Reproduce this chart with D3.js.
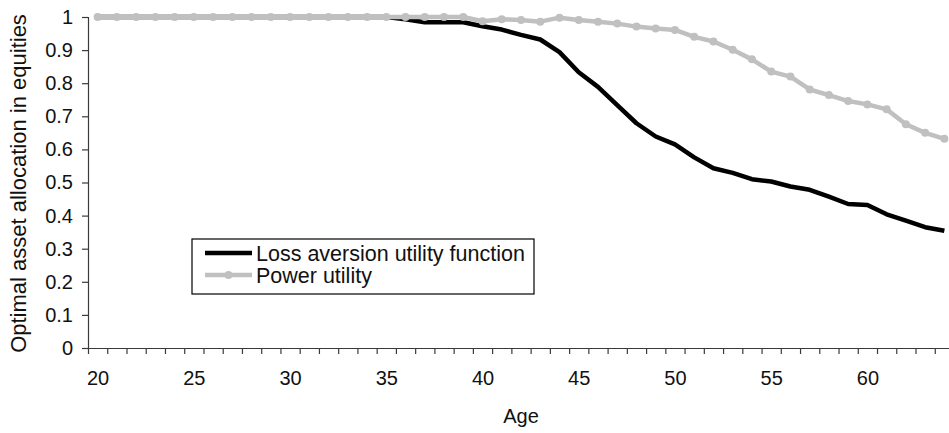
<!DOCTYPE html>
<html>
<head>
<meta charset="utf-8">
<script src="https://cdn.jsdelivr.net/npm/d3@7"></script>
<style>
  body { margin: 0; background: #fff; }
  svg { display: block; font-family: "Liberation Sans", Arial, sans-serif; }
</style>
</head>
<body>
<svg id="chart" width="949" height="433"></svg>
<script>

// Data

var ages = d3.range(20, 65);

var lossAversion = [
  1, 1, 1, 1, 1, 1, 1, 1, 1, 1,                  // 20-29
  1, 1, 1, 1, 1, 1, 0.993, 0.984, 0.984, 0.984,  // 30-39
  0.972, 0.962, 0.946, 0.932, 0.894, 0.833, 0.789, 0.734, 0.679, 0.639, // 40-49
  0.615, 0.576, 0.543, 0.529, 0.510, 0.503, 0.488, 0.478, 0.457, 0.435, // 50-59
  0.432, 0.404, 0.385, 0.365, 0.354              // 60-64
];

var powerUtility = [
  1, 1, 1, 1, 1, 1, 1, 1, 1, 1,                  // 20-29
  1, 1, 1, 1, 1, 1, 1, 1, 1, 1,                  // 30-39
  0.987, 0.993, 0.991, 0.986, 0.998, 0.991, 0.986, 0.980, 0.971, 0.965, // 40-49
  0.961, 0.940, 0.926, 0.901, 0.872, 0.835, 0.820, 0.781, 0.764, 0.746, // 50-59
  0.736, 0.721, 0.676, 0.650, 0.632              // 60-64
];

var seriesNames = ["Loss aversion utility function", "Power utility"];
var xLabels = [20, 25, 30, 35, 40, 45, 50, 55, 60];
var yTicks = d3.range(0, 11).map(function(i) { return i / 10; });

// Layout (plot area runs a little past the right edge, as in the picture)

var plotL = 88, plotR = 954, plotT = 17, plotB = 348;

var svg = d3.select("#chart");

// category axis: each age sits in the middle of its slot
var x = d3.scaleLinear().domain([19.5, 19.5 + ages.length]).range([plotL, plotR]);
var y = d3.scaleLinear().domain([0, 1]).range([plotB, plotT]);

var axisColor = "#3a3a3a";

// y axis
svg.append("g")
  .attr("transform", "translate(" + plotL + ",0)")
  .call(d3.axisLeft(y).tickValues(yTicks).tickSize(6).tickPadding(9)
    .tickFormat(d3.format("~g")));

// x axis: tick marks between categories
svg.append("g")
  .attr("transform", "translate(0," + plotB + ")")
  .call(d3.axisBottom(x).tickValues(d3.range(0, ages.length + 1).map(function(i) { return 19.5 + i; }))
    .tickSize(6).tickSizeOuter(0).tickFormat(""));

// x axis labels in the middle of their category
var xLabelAxis = svg.append("g")
  .attr("transform", "translate(0," + plotB + ")")
  .call(d3.axisBottom(x).tickValues(xLabels).tickSize(0).tickPadding(23));

xLabelAxis.select(".domain").remove();

svg.selectAll(".domain, .tick line").attr("stroke", axisColor).attr("stroke-width", 1.2);
svg.selectAll(".tick text").attr("fill", "#111").style("font-size", "20px");

// axis titles
svg.append("text")
  .attr("x", (plotL + plotR) / 2)
  .attr("y", 423)
  .attr("text-anchor", "middle")
  .style("font-size", "20px")
  .attr("fill", "#111")
  .text("Age");

svg.append("text")
  .attr("transform", "translate(26," + ((plotT + plotB) / 2 + 1) + ") rotate(-90)")
  .attr("text-anchor", "middle")
  .style("font-size", "22px")
  .attr("fill", "#111")
  .text("Optimal asset allocation in equities");

// lines

var line = d3.line()
  .x(function(d, i) { return x(ages[i]); })
  .y(function(d) { return y(d); });

svg.append("path")
  .datum(lossAversion)
  .attr("fill", "none")
  .attr("stroke", "#000")
  .attr("stroke-width", 4.5)
  .attr("stroke-linejoin", "round")
  .attr("d", line);

svg.append("path")
  .datum(powerUtility)
  .attr("fill", "none")
  .attr("stroke", "#c0c0c0")
  .attr("stroke-width", 4.5)
  .attr("stroke-linejoin", "round")
  .attr("d", line);

svg.selectAll(".dot")
  .data(powerUtility)
  .enter()
  .append("circle")
  .attr("class", "dot")
  .attr("cx", function(d, i) { return x(ages[i]); })
  .attr("cy", function(d) { return y(d); })
  .attr("r", 4)
  .attr("fill", "#c0c0c0");

// legend

var legend = svg.append("g").attr("transform", "translate(192,239)");

legend.append("rect")
  .attr("width", 342)
  .attr("height", 55)
  .attr("fill", "#fff")
  .attr("stroke", "#000")
  .attr("stroke-width", 1.2);

var legendColors = ["#000", "#c0c0c0"];

var item = legend.selectAll(".item")
  .data(seriesNames)
  .enter()
  .append("g")
  .attr("class", "item")
  .attr("transform", function(d, i) { return "translate(0," + (14 + i * 22) + ")"; });

item.append("line")
  .attr("x1", 13).attr("x2", 60)
  .attr("stroke", function(d, i) { return legendColors[i]; })
  .attr("stroke-width", 4.5);

item.filter(function(d, i) { return i == 1; })
  .append("circle")
  .attr("cx", 36.5)
  .attr("r", 4)
  .attr("fill", "#c0c0c0");

item.append("text")
  .attr("x", 64)
  .attr("dy", ".35em")
  .style("font-size", "21.5px")
  .attr("fill", "#111")
  .text(function(d) { return d; });

</script>
</body>
</html>
